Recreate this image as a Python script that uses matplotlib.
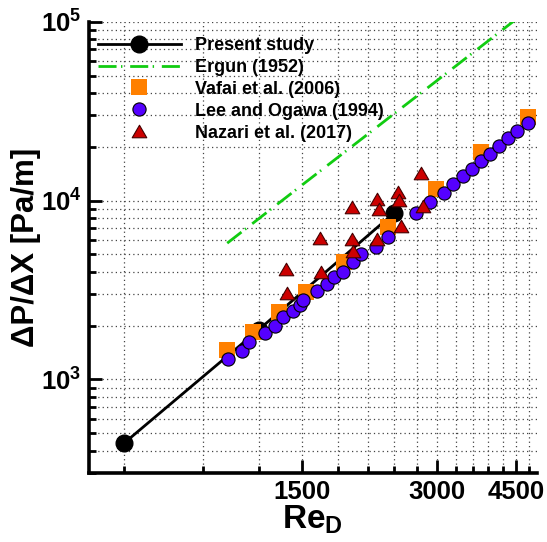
import math
import matplotlib
matplotlib.use('Agg')
import matplotlib.pyplot as plt
from matplotlib.ticker import FixedLocator, NullFormatter, FuncFormatter, LogLocator
from matplotlib.path import Path

plt.rcParams['font.family'] = ['Liberation Sans', 'DejaVu Sans']
plt.rcParams['font.weight'] = 'bold'
plt.rcParams['mathtext.fontset'] = 'custom'
plt.rcParams['mathtext.rm'] = 'Liberation Sans:bold'
plt.rcParams['mathtext.bf'] = 'Liberation Sans:bold'
plt.rcParams['mathtext.it'] = 'Liberation Sans:bold'

# ---------------- data ----------------
present_re = [600, 1200, 2400]
present_dp = [440, 1900, 8490]

ergun_re = [1020, 1500, 2000, 2500, 3000, 3500, 4000, 4500]
ergun_dp = [5780, 12240, 21370, 32980, 46920, 63320, 82000, 103100]

vafai_re = [1017, 1163, 1333, 1529, 1859, 2335, 2983, 3750, 4793]
vafai_dp = [1462, 1850, 2384, 3096, 4538, 7147, 11570, 18770, 29440]

lee_re = [1025, 1099, 1143, 1240, 1302, 1357, 1433, 1483, 1509, 1616, 1701,
          1768, 1847, 1944, 2032, 2188, 2335, 2687, 2892, 3111, 3250, 3433,
          3584, 3755, 3943, 4130, 4325, 4530, 4780]
lee_dp = [1302, 1443, 1627, 1827, 1991, 2227, 2425, 2609, 2782, 3136, 3405,
          3726, 4005, 4520, 5010, 5525, 6234, 8492, 9784, 11070, 12330, 13780,
          15020, 16650, 18290, 20270, 22290, 24490, 27050]

nazari_re = [1380, 1385, 1643, 1649, 1934, 1934, 1944, 2199, 2229, 2199,
             2457, 2470, 2496, 2757, 2794]
nazari_dp = [4130, 3033, 6155, 4005, 9245, 6077, 5248, 10210, 8943, 6077,
             11210, 10080, 7211, 14210, 9330]

labels = ['Present study', 'Ergun (1952)', 'Vafai et al. (2006)',
          'Lee and Ogawa (1994)', 'Nazari et al. (2017)']
x_major = [1500, 3000, 4500]
x_minor = [600, 900, 1200, 1800, 2100, 2400, 2700, 3300, 3600, 3900, 4200, 4800]
y_major = [1e3, 1e4, 1e5]

# ---------------- figure ----------------
fig = plt.figure(figsize=(5.47, 5.42), dpi=100)
ax = fig.add_axes([88.5 / 547, 69 / 542, 448 / 547, 451.3 / 542])
ax.set_xscale('log')
ax.set_yscale('log')
ax.set_xlim(500, 5000)
ax.set_ylim(300, 1e5)

tri = Path([(0, 0.86), (-1, -0.86), (1, -0.86), (0, 0.86)],
           [Path.MOVETO, Path.LINETO, Path.LINETO, Path.CLOSEPOLY])

ax.plot(present_re, present_dp, '-', color='black', lw=2.0, marker='o',
        ms=12, mfc='black', mec='black', label=labels[0], zorder=3)
ergun_line, = ax.plot(ergun_re, ergun_dp, color='#11cc11', lw=2.0,
                      label=labels[1], zorder=3)
ergun_line.set_dashes((6.5, 1.6, 0.5, 2.8))
ax.plot(vafai_re, vafai_dp, ls='none', marker='s', ms=11, mfc='#ff8000',
        mec='#ff8000', mew=0, label=labels[2], zorder=4)
ax.plot(lee_re, lee_dp, ls='none', marker='o', ms=9.5, mfc='#5500ff',
        mec='black', mew=0.8, label=labels[3], zorder=5)
ax.plot(nazari_re, nazari_dp, ls='none', marker=tri, ms=10.5, mfc='#cc0000',
        mec='#440000', mew=0.8, label=labels[4], zorder=6)

# ticks
ax.xaxis.set_major_locator(FixedLocator(x_major))
ax.xaxis.set_minor_locator(FixedLocator(x_minor))
ax.xaxis.set_major_formatter(FuncFormatter(lambda v, p: '%d' % round(v)))
ax.xaxis.set_minor_formatter(NullFormatter())
ax.yaxis.set_major_locator(FixedLocator(y_major))
ax.yaxis.set_minor_locator(LogLocator(base=10, subs=[2, 3, 4, 5, 6, 7, 8, 9], numticks=20))
ax.yaxis.set_major_formatter(FuncFormatter(
    lambda v, p: r'$\mathbf{10^{%d}}$' % round(math.log10(v))))
ax.yaxis.set_minor_formatter(NullFormatter())

ax.tick_params(which='both', direction='in', top=False, right=False, width=2.0)
ax.tick_params(which='major', length=9.5, labelsize=18.5, pad=5)
ax.tick_params(which='minor', length=5)
for t in ax.get_xticklabels() + ax.get_yticklabels():
    t.set_fontweight('bold')

for s in ['top', 'right']:
    ax.spines[s].set_visible(False)
for s in ['left', 'bottom']:
    ax.spines[s].set_linewidth(2.6)

ax.grid(True, which='both', color='#444444', lw=0.9, linestyle=(0, (1, 2.5)))
ax.set_axisbelow(True)

ax.set_xlabel(r'$\mathbf{Re_D}$', fontsize=24, labelpad=0)
ax.set_ylabel('ΔP/ΔX [Pa/m]', fontsize=22.5, fontweight='bold', labelpad=0)

leg = ax.legend(loc='upper left', bbox_to_anchor=(-0.0134, 1.0), frameon=False,
                prop={'size': 13, 'weight': 'bold'}, handlelength=4.6,
                handletextpad=0.8, labelspacing=0.27, borderaxespad=0.55,
                borderpad=0.3, numpoints=1)

fig.savefig('out.png', dpi=100)
